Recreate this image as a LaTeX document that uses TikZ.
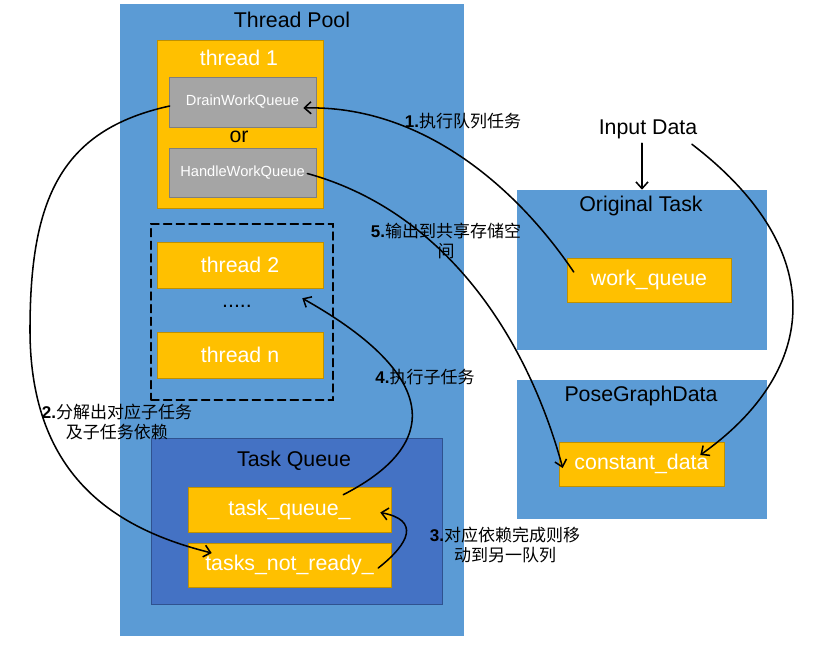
\documentclass[tikz,border=0pt]{standalone}
\usepackage{fontspec}
\setmainfont{Liberation Sans}
\newfontfamily\cjk{Noto Sans CJK SC}
\usetikzlibrary{fit,calc,arrows.meta}

\definecolor{poolblue}{HTML}{5B9BD5}
\definecolor{queueblue}{HTML}{4472C4}
\definecolor{queueedge}{HTML}{2F528F}
\definecolor{boxyellow}{HTML}{FFC000}
\definecolor{yedge}{HTML}{BF9000}
\definecolor{boxgray}{HTML}{A5A5A5}
\definecolor{gedge}{HTML}{7F7F7F}

\newcommand\biglabel{\fontsize{16}{19}\selectfont}
\newcommand\smalllabel{\fontsize{11}{13}\selectfont}
\newcommand\notelabel{\fontsize{12.75}{15}\selectfont}

\tikzset{
  area/.style={fill=poolblue, inner sep=0pt},
  qarea/.style={fill=queueblue, draw=queueedge, inner sep=0pt},
  ybox/.style={fill=boxyellow, draw=yedge, inner sep=0pt},
  gbox/.style={fill=boxgray, draw=gedge, inner sep=0pt},
  ytext/.style={text=white, font=\biglabel},
  gtext/.style={text=white, font=\smalllabel},
  groupbox/.style={draw=black, line width=1.1pt, dash pattern=on 6pt off 3.5pt, inner sep=0pt},
  title/.style={font=\biglabel},
  note/.style={font=\notelabel, align=center},
  flow/.style={->, line width=1.15pt},
}

\begin{document}
\begin{tikzpicture}[x=0.75pt, y=-0.75pt, >={Straight Barb[length=5pt,width=9pt]}, line cap=round]
  \useasboundingbox (0,0) rectangle (815,646);

  % thread pool
  \node[area, fit={(120,4) (464,636)}] (pool) {};
  \node[title] (pooltitle) at (292,20) {Thread Pool};
  \node[ybox, fit={(157,40) (323,208)}] (t1) {};
  \node[ytext] (t1title) at (239,58) {thread 1};
  \node[gbox, fit={(169,77) (316,127)}, label={[gtext]center:DrainWorkQueue}] (dwq) {};
  \node[title] (ortext) at (239,137) {or};
  \node[gbox, fit={(169,148) (316,197)}, label={[gtext]center:HandleWorkQueue}] (hwq) {};
  \node[groupbox, fit={(151,224) (333,400)}] (others) {};
  \node[ybox, fit={(157,242) (323,288)}, label={[ytext]center:thread 2}] (t2) {};
  \node[title] (dots) at (237,306) {.....};
  \node[ybox, fit={(157,332) (323,378)}, label={[ytext]center:thread n}] (tn) {};

  % task queue
  \node[qarea, fit={(151,438) (442,604)}] (tqarea) {};
  \node[title] (tqtitle) at (294,461) {Task Queue};
  \node[ybox, fit={(188,487) (391,532)}, label={[ytext]center:task\_queue\_}] (tq) {};
  \node[ybox, fit={(188,543) (391,587)}, label={[ytext]center:tasks\_not\_ready\_}] (tnr) {};

  % data side
  \node[title] (input) at (648,129) {Input Data};
  \node[area, fit={(517,190) (767,350)}] (ot) {};
  \node[title] (ottitle) at (641,206) {Original Task};
  \node[ybox, fit={(567,258) (731,302)}, label={[ytext]center:work\_queue}] (wq) {};
  \node[area, fit={(517,380) (767,519)}] (pgd) {};
  \node[title] (pgdtitle) at (641,396) {PoseGraphData};
  \node[ybox, fit={(559,442) (724,486)}, label={[ytext]center:constant\_data}] (cd) {};

  % step labels
  \node[note] (n1) at (463,121) {{\bfseries 1.}{\cjk 执行队列任务}};
  \node[note] (n2) at (117,422) {{\bfseries 2.}{\cjk 分解出对应子任务}\\{\cjk 及子任务依赖}};
  \node[note] (n3) at (505,545) {{\bfseries 3.}{\cjk 对应依赖完成则移}\\{\cjk 动到另一队列}};
  \node[note] (n4) at (425,377) {{\bfseries 4.}{\cjk 执行子任务}};
  \node[note] (n5) at (446,241) {{\bfseries 5.}{\cjk 输出到共享存储空}\\{\cjk 间}};

  % connectors
  \draw[flow] (input.south -| ot.north) -- (ot.north);
  \draw[flow] ($(input.south east)+(-10,1)$) .. controls (830,250) and (820,370) .. ($(cd.east)+(-24,-9)$);
  \draw[flow] ($(wq.west)+(7,-8)$) .. controls (515,185) and (420,105) .. ($(dwq.east)+(-13,6)$);
  \draw[flow] ($(hwq.east)+(-9,1)$) .. controls (440,210) and (525,330) .. ($(cd.west)+(4,4)$);
  \draw[flow] ($(dwq.west)+(1,4)$) .. controls (60,130) and (30,200) .. (30,330)
              .. controls (30,480) and (120,530) .. ($(tnr.west)+(24,-12)$);
  \draw[flow] ($(tq.north east)+(-48,8)$) .. controls (450,440) and (430,370) .. ($(t2.south east)+(-21,10)$);
  \draw[flow] ($(tnr.east)+(-13,3)$) .. controls (410,543) and (420,520) .. ($(tq.east)+(-11,3)$);
\end{tikzpicture}
\end{document}
